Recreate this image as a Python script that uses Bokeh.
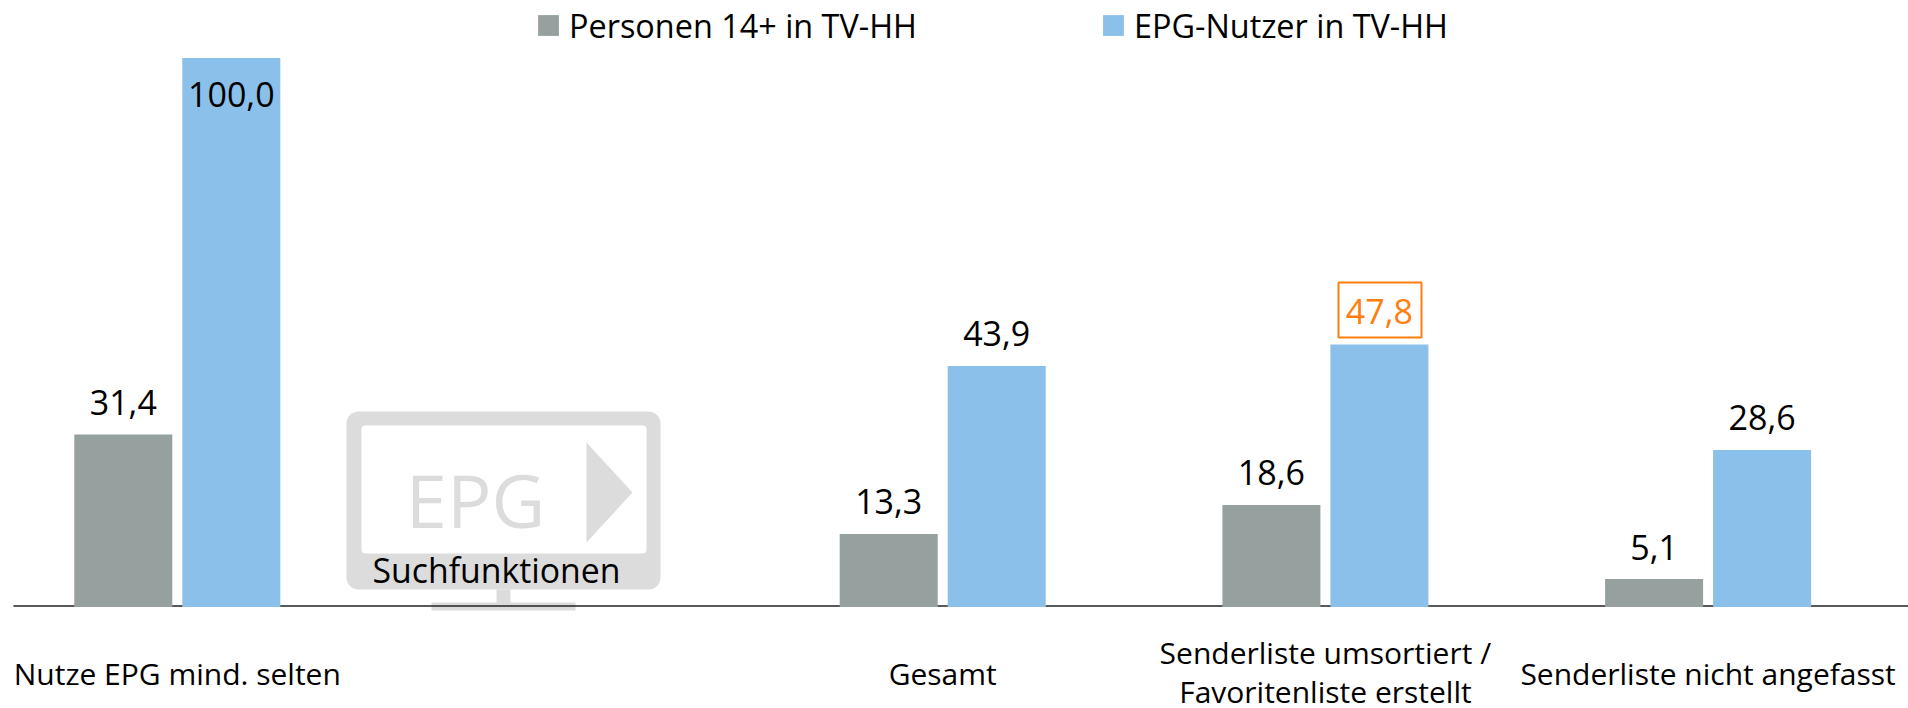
from bokeh.plotting import figure
from bokeh.models import Range1d, Legend, LegendItem, BoxAnnotation
from bokeh.core.properties import value
from bokeh.embed import file_html
from bokeh.resources import INLINE

categories = ["Nutze EPG mind. selten", "", "Gesamt",
              "Senderliste umsortiert /\nFavoritenliste erstellt", "Senderliste nicht angefasst"]
cat_pos = [0, 2, 3, 4]
personen = [31.4, 13.3, 18.6, 5.1]
nutzer = [100.0, 43.9, 47.8, 28.6]
series_names = ["Personen 14+ in TV-HH", "EPG-Nutzer in TV-HH"]
GRAY = "#95a09f"
BLUE = "#8bc0ea"
ORANGE = "#ff7f0e"
ICON = "#dcdcdc"
FONT = "Open Sans"

W, H = 1908, 708
PX_PER_CAT = 382.7
PX_PER_UNIT = 5.49
def X(px): return (px - 176.8) / PX_PER_CAT
def Y(py): return (606.5 - py) / PX_PER_UNIT

p = figure(width=W, height=H, output_backend="svg", toolbar_location=None,
           x_range=Range1d(X(0), X(W)), y_range=Range1d(Y(H), Y(0)),
           min_border=0, outline_line_color=None)
p.xaxis.visible = False
p.yaxis.visible = False
p.grid.visible = False
p.background_fill_color = None
p.border_fill_color = None

bar_w = 98 / PX_PER_CAT
off = 54 / PX_PER_CAT
x_g = [c - off for c in cat_pos]
x_b = [c + off for c in cat_pos]

def label(xs, ys, texts, size, color="black", dy=0):
    p.text(xs, ys, text=texts, y_offset=dy, text_font=value(FONT), text_font_size=f"{size}px",
           text_align="center", text_baseline="middle", text_color=color)

# monitor icon
p.add_layout(BoxAnnotation(left=X(346), right=X(660), top=Y(411), bottom=Y(589), fill_color=ICON,
                           fill_alpha=1, line_color=None, border_radius=12, level="underlay"))
p.add_layout(BoxAnnotation(left=X(361), right=X(646), top=Y(425), bottom=Y(553), fill_color="white",
                           fill_alpha=1, line_color=None, border_radius=4, level="underlay"))
p.quad(left=[X(496)], right=[X(510)], top=[Y(589)], bottom=[Y(603)], color=ICON, line_color=None)
p.quad(left=[X(431)], right=[X(575)], top=[Y(602)], bottom=[Y(610)], color=ICON, line_color=None)
p.patch([X(586), X(632), X(586)], [Y(442), Y(492), Y(542)], color=ICON, line_color=None)
label([X(475)], [Y(499)], ["EPG"], 74, ICON)

# baseline
p.segment([X(13)], [Y(605.5)], [X(1908)], [Y(605.5)], line_color="#222222", line_width=1.5)

r_g = p.vbar(x=x_g, top=personen, bottom=0, width=bar_w, fill_color=GRAY, line_color=None)
r_b = p.vbar(x=x_b, top=nutzer, bottom=0, width=bar_w, fill_color=BLUE, line_color=None)

fmt = lambda v: f"{v:.1f}".replace(".", ",")
TS = 34
label(x_g, personen, [fmt(v) for v in personen], TS, dy=-32)
plain = [i for i in range(4) if i not in (0, 2)]
label([x_b[i] for i in plain], [nutzer[i] for i in plain], [fmt(nutzer[i]) for i in plain], TS, dy=-32)
label([x_b[0]], [nutzer[0]], [fmt(nutzer[0])], TS, dy=36)
label([x_b[2]], [nutzer[2]], [fmt(nutzer[2])], TS, ORANGE, dy=-33)
p.add_layout(BoxAnnotation(left=X(1338), right=X(1421), top=Y(282), bottom=Y(337), fill_alpha=0,
                           line_color=ORANGE, line_alpha=1, line_width=2))

# category labels
CS = 30
label([0], [Y(673)], [categories[0]], CS)
label([2], [Y(673)], [categories[2]], CS)
l1, l2 = categories[3].split("\n")
label([3], [Y(652)], [l1], CS)
label([3], [Y(691)], [l2], CS)
label([4], [Y(673)], [categories[4]], CS)
label([X(496)], [Y(569)], ["Suchfunktionen"], 33.8)

legend = Legend(items=[LegendItem(label=series_names[0], renderers=[r_g]),
                       LegendItem(label=series_names[1], renderers=[r_b])],
                orientation="horizontal", location=(535, H - 47), padding=0, margin=0, spacing=183,
                glyph_width=26, glyph_height=26, label_standoff=8, border_line_color=None,
                background_fill_alpha=0, label_text_font=FONT, label_text_font_size="32.4px",
                label_text_color="black", label_height=30)
p.add_layout(legend)

open("out.html", "w").write(file_html(p, INLINE))
